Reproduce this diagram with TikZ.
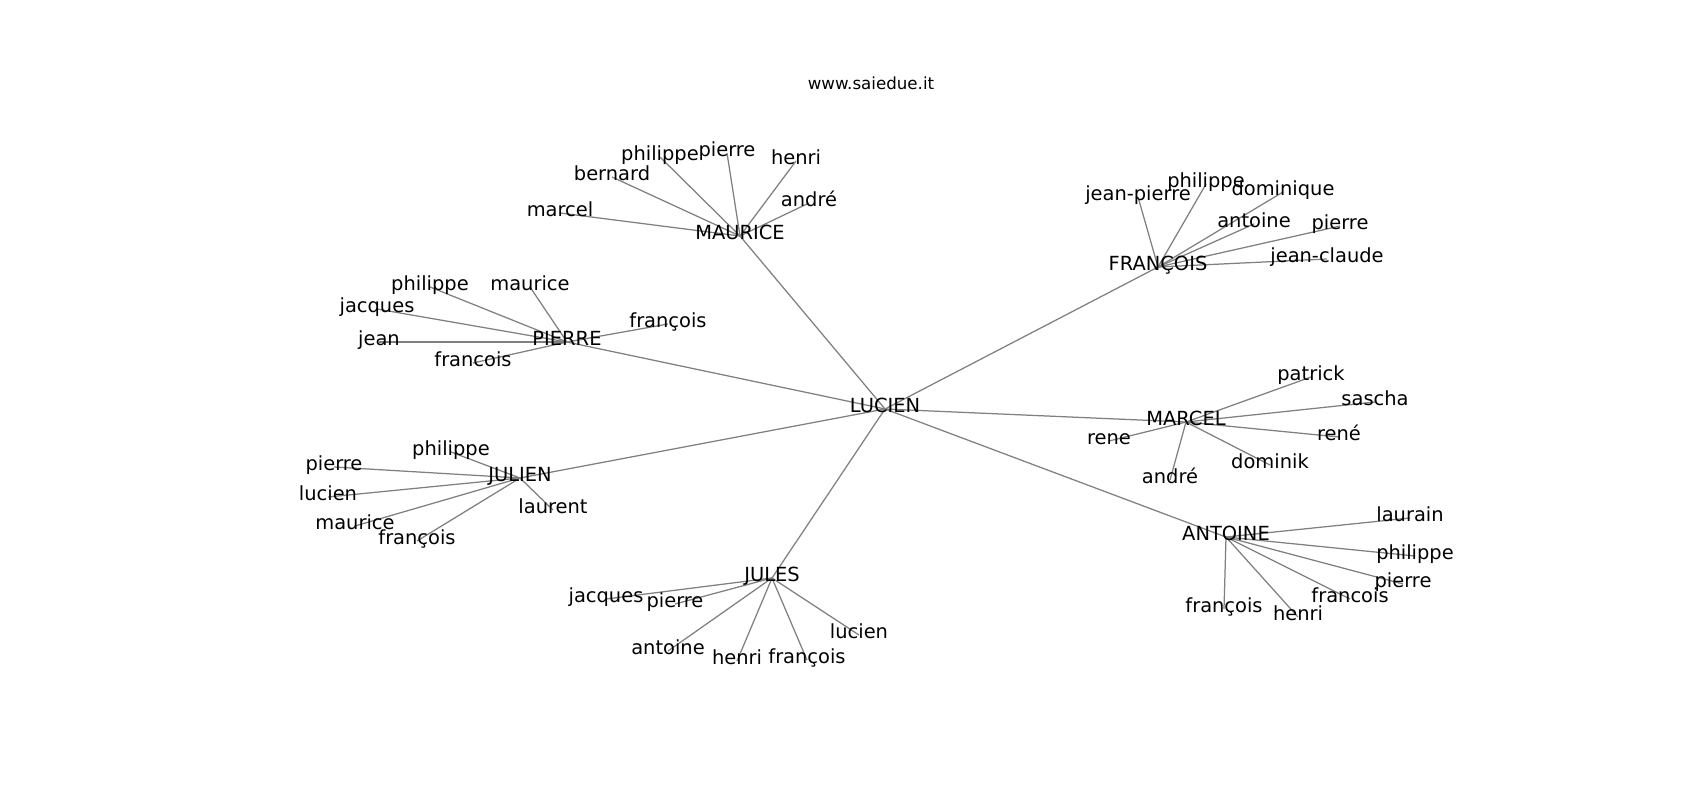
\documentclass[tikz,border=0pt]{standalone}
\usepackage{fontspec}
\setmainfont{DejaVu Sans}
\usetikzlibrary{backgrounds}

\begin{document}
\begin{tikzpicture}[x=0.72pt, y=-0.72pt,
		lbl/.style={inner sep=0pt, text height=0.76em, text depth=0.24em, font=\fontsize{14}{17}\selectfont},
		tie/.style={draw=gray, line width=0.9pt}]
	\begin{pgfonlayer}{background}
		\fill[white] (0,0) rectangle (1700,800);
	\end{pgfonlayer}
	\useasboundingbox (0,0) rectangle (1700,800);
	\node[inner sep=0pt, font=\fontsize{12}{14}\selectfont] (title) at (871,83) {www.saiedue.it};
	\node[lbl] (lucien) at (885,409) {LUCIEN};
	\node[lbl] (maurice) at (740,236) {MAURICE};
	\node[lbl] (pierre) at (567,342) {PIERRE};
	\node[lbl] (julien) at (520,478) {JULIEN};
	\node[lbl] (jules) at (772,578) {JULES};
	\node[lbl] (antoine) at (1226,537) {ANTOINE};
	\node[lbl] (marcel) at (1186,422) {MARCEL};
	\node[lbl] (francois) at (1158,267) {FRANÇOIS};
	\begin{pgfonlayer}{background}
		\foreach \h in {maurice,pierre,julien,jules,antoine,marcel,francois}
			\draw[tie] (lucien.center) -- (\h.center);
	\end{pgfonlayer}
	\foreach \h/\x/\y/\t [count=\i] in {
			maurice/560/213/marcel, maurice/612/177/bernard, maurice/660/157/philippe,
			maurice/727/153/pierre, maurice/796/161/henri, maurice/809/203/andré,
			pierre/430/287/philippe, pierre/530/287/maurice, pierre/377/309/jacques,
			pierre/379/342/jean, pierre/668/324/françois, pierre/473/363/francois,
			julien/451/452/philippe, julien/334/467/pierre, julien/328/497/lucien,
			julien/355/526/maurice, julien/417/541/françois, julien/553/510/laurent,
			jules/606/599/jacques, jules/675/604/pierre, jules/668/651/antoine,
			jules/737/661/henri, jules/807/660/françois, jules/859/635/lucien,
			antoine/1410/518/laurain, antoine/1415/556/philippe, antoine/1403/584/pierre,
			antoine/1350/599/francois, antoine/1298/617/henri, antoine/1224/609/françois,
			marcel/1311/377/patrick, marcel/1375/402/sascha, marcel/1339/437/rené,
			marcel/1270/465/dominik, marcel/1170/480/andré, marcel/1109/441/rene,
			francois/1138/197/jean-pierre, francois/1206/184/philippe, francois/1283/192/dominique,
			francois/1254/224/antoine, francois/1340/226/pierre, francois/1327/259/jean-claude} {
		\node[lbl] (leaf\i) at (\x,\y) {\t};
		\begin{pgfonlayer}{background}
			\draw[tie] (\h.center) -- (leaf\i.center);
		\end{pgfonlayer}
	}
\end{tikzpicture}
\end{document}
